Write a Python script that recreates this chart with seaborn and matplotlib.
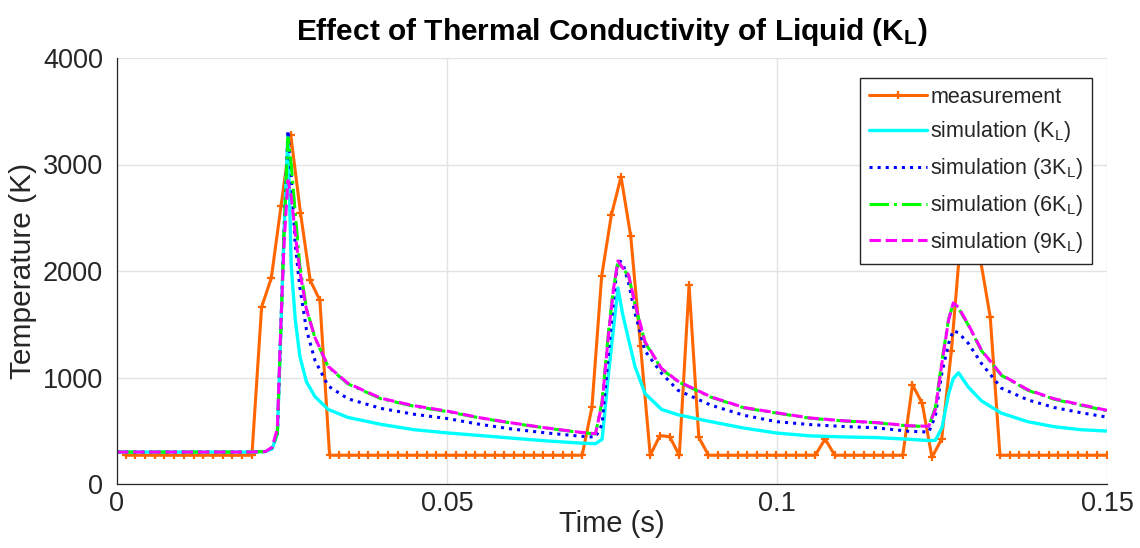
import numpy as np
import pandas as pd
import matplotlib
matplotlib.use("Agg")
import matplotlib.pyplot as plt
import seaborn as sns

# ---------------- data ----------------
meas_t = [0.00130, 0.00277, 0.00424, 0.00572, 0.00719, 0.00866, 0.01013, 0.01160, 0.01308, 0.01455,
          0.01602, 0.01749, 0.01896, 0.02044, 0.02191, 0.02338, 0.02485, 0.02632, 0.02780, 0.02927,
          0.03074, 0.03221, 0.03368, 0.03516, 0.03663, 0.03810, 0.03957, 0.04104, 0.04252, 0.04399,
          0.04546, 0.04693, 0.04840, 0.04988, 0.05135, 0.05282, 0.05429, 0.05576, 0.05724, 0.05871,
          0.06018, 0.06165, 0.06312, 0.06460, 0.06607, 0.06754, 0.06901, 0.07048, 0.07196, 0.07343,
          0.07490, 0.07637, 0.07784, 0.07932, 0.08079, 0.08226, 0.08373, 0.08520, 0.08668, 0.08815,
          0.08962, 0.09109, 0.09256, 0.09404, 0.09551, 0.09698, 0.09845, 0.09992, 0.10140, 0.10287,
          0.10434, 0.10581, 0.10728, 0.10876, 0.11023, 0.11170, 0.11317, 0.11464, 0.11612, 0.11759,
          0.11906, 0.12053, 0.12200, 0.12348, 0.12495, 0.12642, 0.12789, 0.12936, 0.13084, 0.13231,
          0.13378, 0.13525, 0.13672, 0.13820, 0.13967, 0.14114, 0.14261, 0.14408, 0.14556, 0.14703,
          0.14850, 0.14997]
meas_T = [270, 270, 270, 270, 270, 270, 270, 270, 270, 270,
          270, 270, 270, 270, 1661, 1934, 2609, 3280, 2546, 1912,
          1725, 270, 270, 270, 270, 270, 270, 270, 270, 270,
          270, 270, 270, 270, 270, 270, 270, 270, 270, 270,
          270, 270, 270, 270, 270, 270, 270, 270, 721, 1950,
          2524, 2884, 2326, 1300, 270, 454, 445, 270, 1866, 438,
          270, 270, 270, 270, 270, 270, 270, 270, 270, 270,
          270, 270, 423, 270, 270, 270, 270, 270, 270, 270,
          270, 931, 758, 250, 423, 1250, 2350, 2500, 2100, 1567,
          270, 270, 270, 270, 270, 270, 270, 270, 270, 270,
          270, 270]

sim_t = [0.0, 0.0200, 0.0225, 0.0235, 0.0243, 0.0248, 0.0253, 0.0259, 0.0264, 0.0270,
         0.0277, 0.0287, 0.0300, 0.0320, 0.0350, 0.0400, 0.0450, 0.0500, 0.0550, 0.0600,
         0.0650, 0.0700, 0.0725, 0.0735, 0.0745, 0.0752, 0.0759, 0.0766, 0.0775, 0.0785,
         0.0800, 0.0825, 0.0850, 0.0900, 0.0950, 0.1000, 0.1050, 0.1100, 0.1150, 0.1200,
         0.1230, 0.1240, 0.1250, 0.1260, 0.1267, 0.1275, 0.1290, 0.1310, 0.1340, 0.1380,
         0.1420, 0.1460, 0.1500]
sim_k1 = [300, 300, 305, 330, 470, 1400, 2350, 3280, 2050, 1550,
          1200, 960, 820, 700, 625, 560, 510, 480, 455, 430,
          405, 385, 378, 420, 1050, 1450, 1840, 1600, 1360, 1100,
          850, 700, 650, 585, 525, 478, 452, 442, 436, 420,
          408, 410, 530, 847, 990, 1045, 909, 780, 665, 585,
          538, 510, 497]
sim_k3 = [300, 300, 305, 340, 480, 1400, 2350, 3320, 2900, 2250,
          1850, 1450, 1160, 920, 800, 710, 655, 615, 560, 515,
          480, 450, 440, 560, 1250, 1700, 2100, 2080, 1890, 1600,
          1250, 1040, 880, 740, 645, 585, 558, 540, 528, 495,
          488, 640, 1050, 1320, 1440, 1420, 1320, 1130, 900, 790,
          718, 670, 628]
sim_k6 = [300, 300, 305, 340, 480, 1400, 2350, 3250, 3000, 2550,
          2050, 1650, 1370, 1100, 940, 800, 730, 680, 620, 570,
          525, 485, 470, 780, 1450, 1830, 2085, 2020, 1960, 1680,
          1330, 1080, 960, 815, 715, 665, 618, 592, 575, 545,
          540, 720, 1160, 1550, 1690, 1650, 1490, 1250, 1020, 880,
          795, 740, 688]
sim_k9 = [300, 300, 305, 345, 520, 1450, 2250, 2850, 2700, 2350,
          2000, 1640, 1375, 1105, 945, 805, 735, 685, 622, 572,
          527, 487, 472, 760, 1420, 1820, 2095, 2030, 1965, 1690,
          1335, 1085, 965, 818, 718, 668, 620, 594, 577, 547,
          542, 700, 1140, 1540, 1700, 1660, 1495, 1255, 1025, 885,
          800, 745, 692]

labels = ["measurement",
          r"simulation (K$_\mathrm{L}$)",
          r"simulation (3K$_\mathrm{L}$)",
          r"simulation (6K$_\mathrm{L}$)",
          r"simulation (9K$_\mathrm{L}$)"]
title = r"Effect of Thermal Conductivity of Liquid (K$_\mathbf{L}$)"
xticks = [0, 0.05, 0.1, 0.15]
xtick_labels = ["0", "0.05", "0.1", "0.15"]
yticks = [0, 1000, 2000, 3000, 4000]
ytick_labels = ["0", "1000", "2000", "3000", "4000"]

# ---------------- style ----------------
sns.set_style("white")
plt.rcParams["font.family"] = ["Liberation Sans", "DejaVu Sans"]
plt.rcParams["mathtext.fontset"] = "custom"
plt.rcParams["mathtext.rm"] = "Liberation Sans"
plt.rcParams["mathtext.it"] = "Liberation Sans:italic"
plt.rcParams["mathtext.bf"] = "Liberation Sans:bold"

fig = plt.figure(figsize=(11.4, 5.48), dpi=100)
ax = fig.add_axes([117 / 1140, 1 - 484 / 548, (1107 - 117) / 1140, (484 - 58) / 548])

meas_df = pd.DataFrame({"t": meas_t, "T": meas_T})
sns.lineplot(data=meas_df, x="t", y="T", ax=ax, color="#FF6600", lw=2.2,
             marker="+", ms=6, mew=1.6, mec="#FF6600", estimator=None, sort=False)

sim_df = pd.DataFrame({"t": sim_t, "k1": sim_k1, "k3": sim_k3, "k6": sim_k6, "k9": sim_k9})
styles = [("k1", "#00FFFF", "-", 2.4),
          ("k3", "#0000FF", ":", 2.2),
          ("k6", "#00FF00", "-.", 2.2),
          ("k9", "#FF00FF", "--", 2.2)]
for col, c, ls, lw in styles:
    sns.lineplot(data=sim_df, x="t", y=col, ax=ax, color=c, linestyle=ls, lw=lw,
                 estimator=None, sort=False)

handles = list(ax.get_lines())[:5]

ax.set_xlim(0, 0.15)
ax.set_ylim(0, 4000)
ax.set_xticks(xticks)
ax.set_xticklabels(xtick_labels)
ax.set_yticks(yticks)
ax.set_yticklabels(ytick_labels)
ax.grid(True, color="#e3e3e3", lw=1)
ax.set_axisbelow(True)
for s in ["top", "right"]:
    ax.spines[s].set_visible(False)
for s in ["left", "bottom"]:
    ax.spines[s].set_color("#262626")
    ax.spines[s].set_linewidth(0.9)
ax.tick_params(direction="in", length=5, width=0.8, colors="#262626",
               labelsize=19.5, top=False, right=False)
ax.tick_params(axis="y", pad=10)
ax.tick_params(axis="x", pad=5)

ax.set_xlabel("Time (s)", fontsize=21, color="#262626", labelpad=-5)
ax.set_ylabel("Temperature (K)", fontsize=21.5, color="#262626", labelpad=4)
ax.set_title(title, fontsize=21.5, fontweight="bold", color="black", pad=13)

leg = ax.legend(handles, labels, loc="upper right",
                bbox_to_anchor=(1092 / 1140, 1 - 78 / 548), bbox_transform=fig.transFigure,
                borderaxespad=0, fontsize=15.5, frameon=True, fancybox=False,
                framealpha=1, edgecolor="#262626", handlelength=2.7,
                handletextpad=0.15, labelspacing=0.55, borderpad=0.4)
leg.get_frame().set_linewidth(1.0)
for txt in leg.get_texts():
    txt.set_color("#262626")

fig.savefig("out.png", dpi=100)
